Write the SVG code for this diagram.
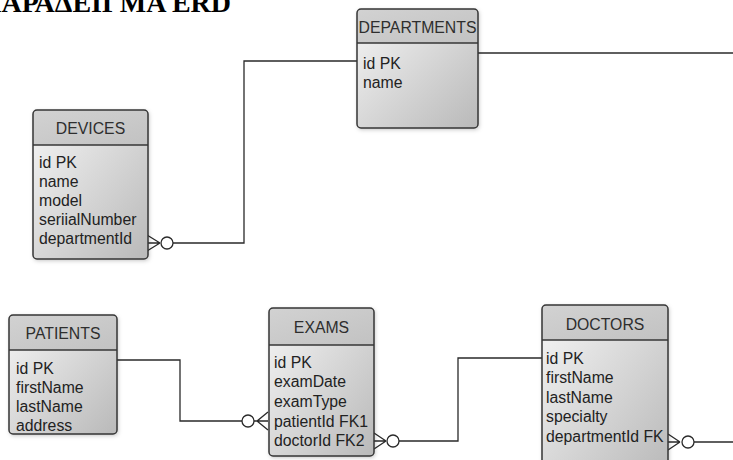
<svg xmlns="http://www.w3.org/2000/svg" width="733" height="460" viewBox="0 0 733 460">
<style>
.box{fill:url(#body);stroke:none}
.hdr{fill:url(#head)}
.outline{fill:none;stroke:#363636;stroke-width:1.5}
.div{stroke:#363636;stroke-width:1.5}
.ttl{font-family:"Liberation Sans",Arial,sans-serif;font-size:15.8px;fill:#2e2e2e;text-anchor:middle}
.fld{font-family:"Liberation Sans",Arial,sans-serif;font-size:15.8px;fill:#222}
.title{font-family:"Liberation Serif","Times New Roman",serif;font-weight:bold;font-size:28px;fill:#000}
.conn path,.conn line{fill:none;stroke:#2a2a2a;stroke-width:1.3}
.conn circle{fill:#fff;stroke:#2a2a2a;stroke-width:1.3}
</style>
<defs>
<linearGradient id="body" x1="0" y1="0" x2="1" y2="1">
<stop offset="0" stop-color="#f6f6f6"/>
<stop offset="1" stop-color="#b9b9b9"/>
</linearGradient>
<linearGradient id="head" x1="0" y1="0" x2="1" y2="1">
<stop offset="0" stop-color="#d2d2d2"/>
<stop offset="1" stop-color="#c2c2c2"/>
</linearGradient>
<filter id="sh" x="-20%" y="-20%" width="140%" height="140%">
<feDropShadow dx="1" dy="1.5" stdDeviation="2" flood-color="#000" flood-opacity="0.25"/>
</filter>
</defs>
<rect width="733" height="460" fill="#fff"/>
<text class="title" x="231" y="12" text-anchor="end">ΠΑΡΑΔΕΙΓΜΑ ERD</text>

<g class="conn" id="connectors">
<line x1="478" y1="53" x2="733" y2="53"/>
<path d="M357,61 H244 V243 H173"/>
<path d="M160,243 L147,235 M160,243 L147,243 M160,243 L147,251"/>
<circle cx="167" cy="243" r="6"/>
<path d="M117,360 H180 V421 H242"/>
<path d="M254,421 H257 L268,412 M257,421 L268,421 M257,421 L268,430"/>
<circle cx="248" cy="421" r="6"/>
<path d="M386,441 L374,433 M386,441 L374,441 M386,441 L374,449"/>
<circle cx="393" cy="441" r="6"/>
<path d="M399,441 H458 V358 H542"/>
<path d="M680,442 L668,434 M680,442 L668,442 M680,442 L668,450"/>
<circle cx="688" cy="442" r="6"/>
<line x1="694" y1="442" x2="733" y2="442"/>
</g>

<g id="departments">
<rect class="box" x="357" y="9" width="121" height="119" rx="4" filter="url(#sh)"/>
<path class="hdr" d="M357,43 V13 Q357,9 361,9 H474 Q478,9 478,13 V43 Z"/>
<rect class="outline" x="357" y="9" width="121" height="119" rx="4"/>
<line class="div" x1="357" y1="43" x2="478" y2="43"/>
<text class="ttl" x="417.5" y="33">DEPARTMENTS</text>
<text class="fld" x="363" y="69">id PK</text>
<text class="fld" x="363" y="88">name</text>
</g>

<g id="devices">
<rect class="box" x="33" y="110" width="115" height="149" rx="4" filter="url(#sh)"/>
<path class="hdr" d="M33,145 V114 Q33,110 37,110 H144 Q148,110 148,114 V145 Z"/>
<rect class="outline" x="33" y="110" width="115" height="149" rx="4"/>
<line class="div" x1="33" y1="145" x2="148" y2="145"/>
<text class="ttl" x="90.5" y="134">DEVICES</text>
<text class="fld" x="39" y="168">id PK</text>
<text class="fld" x="39" y="187">name</text>
<text class="fld" x="39" y="206">model</text>
<text class="fld" x="39" y="225">seriialNumber</text>
<text class="fld" x="39" y="244">departmentId</text>
</g>

<g id="patients">
<rect class="box" x="9" y="315" width="108" height="119" rx="4" filter="url(#sh)"/>
<path class="hdr" d="M9,350 V319 Q9,315 13,315 H113 Q117,315 117,319 V350 Z"/>
<rect class="outline" x="9" y="315" width="108" height="119" rx="4"/>
<line class="div" x1="9" y1="350" x2="117" y2="350"/>
<text class="ttl" x="63" y="339">PATIENTS</text>
<text class="fld" x="16" y="374">id PK</text>
<text class="fld" x="16" y="393">firstName</text>
<text class="fld" x="16" y="412">lastName</text>
<text class="fld" x="16" y="431">address</text>
</g>

<g id="exams">
<rect class="box" x="269" y="308" width="105" height="148" rx="4" filter="url(#sh)"/>
<path class="hdr" d="M269,345 V312 Q269,308 273,308 H370 Q374,308 374,312 V345 Z"/>
<rect class="outline" x="269" y="308" width="105" height="148" rx="4"/>
<line class="div" x1="269" y1="345" x2="374" y2="345"/>
<text class="ttl" x="321.5" y="333">EXAMS</text>
<text class="fld" x="274" y="368">id PK</text>
<text class="fld" x="274" y="387">examDate</text>
<text class="fld" x="274" y="407">examType</text>
<text class="fld" x="274" y="427">patientId FK1</text>
<text class="fld" x="274" y="446">doctorId FK2</text>
</g>

<g id="doctors">
<rect class="box" x="542" y="305" width="126" height="170" rx="4" filter="url(#sh)"/>
<path class="hdr" d="M542,340 V309 Q542,305 546,305 H664 Q668,305 668,309 V340 Z"/>
<rect class="outline" x="542" y="305" width="126" height="170" rx="4"/>
<line class="div" x1="542" y1="340" x2="668" y2="340"/>
<text class="ttl" x="605" y="330">DOCTORS</text>
<text class="fld" x="546" y="364">id PK</text>
<text class="fld" x="546" y="383">firstName</text>
<text class="fld" x="546" y="403">lastName</text>
<text class="fld" x="546" y="422">specialty</text>
<text class="fld" x="546" y="442">departmentId FK</text>
</g>
</svg>
